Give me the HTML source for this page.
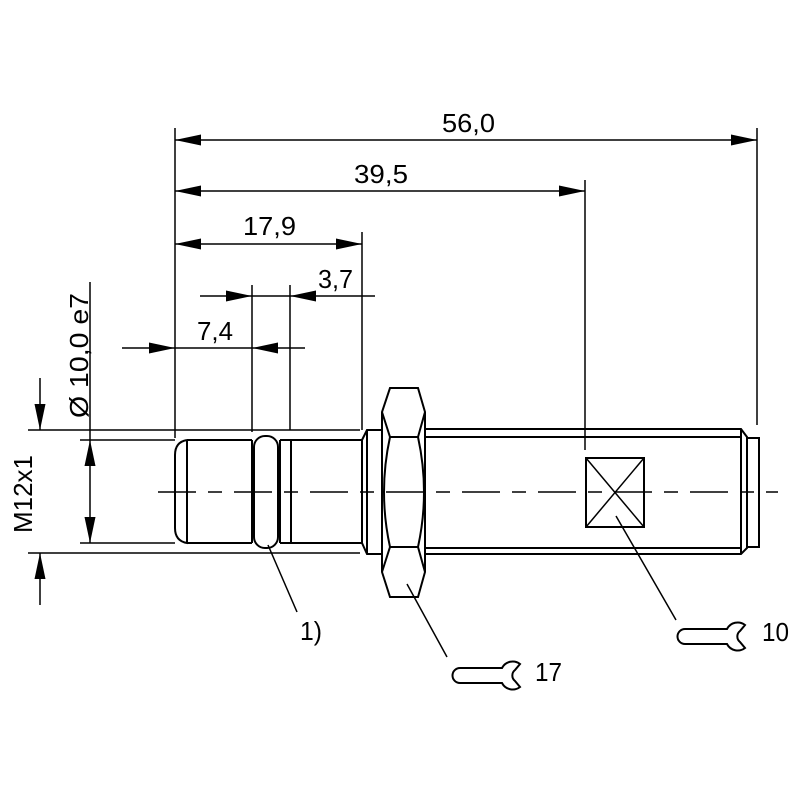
<!DOCTYPE html>
<html><head><meta charset="utf-8"><style>
html,body{margin:0;padding:0;background:#fff}
svg{display:block}
text{font-family:"Liberation Sans",sans-serif;font-size:26px;fill:#000}
</style></head><body>
<svg width="800" height="800" viewBox="0 0 800 800" xmlns="http://www.w3.org/2000/svg">
<defs>
<marker id="a" viewBox="0 0 26 11" refX="26" refY="5.5" markerWidth="26" markerHeight="11" markerUnits="userSpaceOnUse" orient="auto">
<path d="M0,0 L26,5.5 L0,11 z" fill="#000"/></marker>
</defs>
<g stroke="#000" stroke-width="2" fill="none">
<line x1="175" y1="128" x2="175" y2="438" stroke-width="1.5"/>
<line x1="252" y1="285" x2="252" y2="432" stroke-width="1.5"/>
<line x1="290" y1="285" x2="290" y2="430" stroke-width="1.5"/>
<line x1="362" y1="232" x2="362" y2="430" stroke-width="1.5"/>
<line x1="585" y1="180" x2="585" y2="450" stroke-width="1.5"/>
<line x1="757" y1="128" x2="757" y2="425" stroke-width="1.5"/>
<g stroke-width="1.5">
<line x1="466" y1="140" x2="757" y2="140" marker-end="url(#a)"/>
<line x1="466" y1="140" x2="175" y2="140" marker-end="url(#a)"/>
<line x1="380" y1="191" x2="585" y2="191" marker-end="url(#a)"/>
<line x1="380" y1="191" x2="175" y2="191" marker-end="url(#a)"/>
<line x1="268" y1="244" x2="362" y2="244" marker-end="url(#a)"/>
<line x1="268" y1="244" x2="175" y2="244" marker-end="url(#a)"/>
<line x1="200" y1="296" x2="252" y2="296" marker-end="url(#a)"/>
<line x1="375" y1="296" x2="290" y2="296" marker-end="url(#a)"/>
<line x1="252" y1="296" x2="290" y2="296"/>
<line x1="122" y1="348" x2="175" y2="348" marker-end="url(#a)"/>
<line x1="305" y1="348" x2="252" y2="348" marker-end="url(#a)"/>
<line x1="175" y1="348" x2="252" y2="348"/>
<line x1="28" y1="430" x2="360" y2="430"/>
<line x1="28" y1="553" x2="360" y2="553"/>
<line x1="80" y1="440" x2="175" y2="440"/>
<line x1="80" y1="543" x2="175" y2="543"/>
<line x1="90" y1="282" x2="90" y2="440"/>
<line x1="90" y1="492" x2="90" y2="440" marker-end="url(#a)"/>
<line x1="90" y1="492" x2="90" y2="543" marker-end="url(#a)"/>
<line x1="40" y1="378" x2="40" y2="430" marker-end="url(#a)"/>
<line x1="40" y1="605" x2="40" y2="553" marker-end="url(#a)"/>
</g>
<path d="M187,440 L252,440 M187,543 L252,543 M280,440 L362,440 M280,543 L362,543 M187,440 Q175,442 175,455 L175,528 Q175,541 187,543 L187,440"/>
<line x1="252" y1="440" x2="252" y2="543"/>
<rect x="254" y="436" width="24" height="112" rx="11" ry="11"/>
<line x1="280" y1="440" x2="280" y2="543"/>
<line x1="291" y1="440" x2="291" y2="543"/>
<line x1="362" y1="440" x2="362" y2="543"/>
<path d="M362,440 L367,430 L382,430 M362,543 L367,554 L382,554 M367,430 L367,554"/>
<path d="M390,388 L418,388 L425,412 L425,572 L418,597 L390,597 L382,572 L382,412 Z"/>
<path d="M382,412 L390,437 L418,437 L425,412 M382,572 L390,547 L418,547 L425,572"/>
<path d="M390,437 Q378,492 390,547 M418,437 Q430,492 418,547"/>
<path d="M425,429 L741,429 L747,437 L747,548 L741,554 L425,554 M425,437 L741,437 M425,548 L741,548 M741,429 L741,554"/>
<rect x="747" y="438" width="12" height="109"/>
<rect x="586" y="458" width="58" height="69"/>
<line x1="586" y1="458" x2="644" y2="527" stroke-width="1.5"/>
<line x1="644" y1="458" x2="586" y2="527" stroke-width="1.5"/>
<line x1="158" y1="492" x2="778" y2="492" stroke-dasharray="38,12,14,12" stroke-width="1.5"/>
<g stroke-width="1.5">
<line x1="268" y1="545" x2="297" y2="612"/>
<line x1="407" y1="584" x2="447" y2="657"/>
<line x1="616" y1="516" x2="676" y2="620"/>
</g>
<path d="M727,629 L685,629 A7.5,7.5 0 0 0 685,644 L727,644 A12,12 0 0 0 745,648 L740,642 A7,7 0 0 1 740,631 L745,625 A12,12 0 0 0 727,629 Z"/>
<path d="M502,668 L460,668 A7.5,7.5 0 0 0 460,683 L502,683 A12,12 0 0 0 520,687 L515,681 A7,7 0 0 1 515,670 L520,664 A12,12 0 0 0 502,668 Z"/>
</g>
<text x="442" y="132" textLength="53" lengthAdjust="spacingAndGlyphs">56,0</text>
<text x="354" y="183" textLength="54" lengthAdjust="spacingAndGlyphs">39,5</text>
<text x="243" y="235" textLength="53" lengthAdjust="spacingAndGlyphs">17,9</text>
<text x="318" y="288" textLength="35" lengthAdjust="spacingAndGlyphs">3,7</text>
<text x="197" y="340" textLength="36" lengthAdjust="spacingAndGlyphs">7,4</text>
<text x="300" y="640" textLength="22" lengthAdjust="spacingAndGlyphs">1)</text>
<text x="535" y="681" textLength="27" lengthAdjust="spacingAndGlyphs">17</text>
<text x="762" y="641" textLength="27" lengthAdjust="spacingAndGlyphs">10</text>
<text transform="translate(88,418) rotate(-90)" textLength="125" lengthAdjust="spacingAndGlyphs">Ø 10,0 e7</text>
<text transform="translate(32,533) rotate(-90)" textLength="78" lengthAdjust="spacingAndGlyphs">M12x1</text>
</svg>
</body></html>
